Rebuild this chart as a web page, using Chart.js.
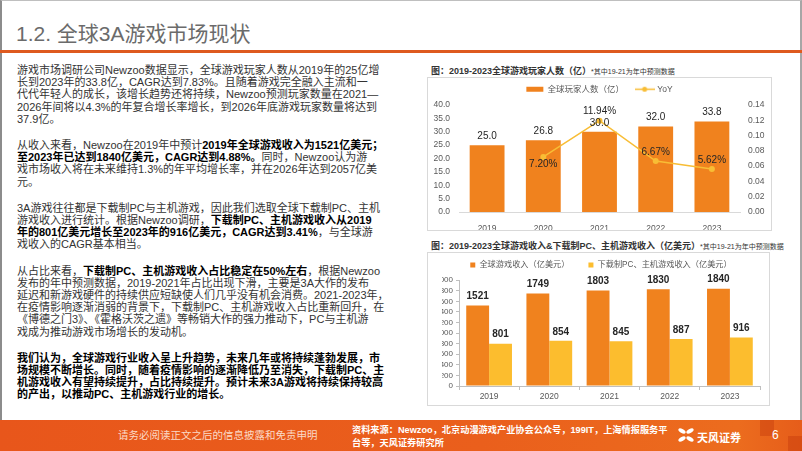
<!DOCTYPE html>
<html>
<head>
<meta charset="utf-8">
<script src="https://cdn.jsdelivr.net/npm/chart.js@4.4.1/dist/chart.umd.min.js"></script>
<style>
    body { margin: 0; width: 802px; height: 451px; overflow: hidden; background: #fff; position: relative;
           font-family: "Liberation Sans", "Noto Sans CJK SC", sans-serif; }
    .frame { position: absolute; left: 0; top: 0; width: 798px; height: 419px; border-left: 2px solid #8c8c8c;
             border-right: 2px solid #a6a6a6; border-top: 1px solid #bfbfbf; }
    .title { position: absolute; left: 16px; top: 17px; font-size: 21px; color: #6b6b6b; white-space: nowrap; }
    .rule { position: absolute; left: 0; top: 50px; width: 802px; height: 3px; background: #de5a1f; }
    .body { position: absolute; left: 17px; top: 64px; font-size: 11px; line-height: 12.2px; color: #333; }
    .body p { margin: 0 0 14px 0; white-space: nowrap; }
    .body b { color: #000; }
    .ctitle { position: absolute; left: 431px; font-size: 9px; color: #333; white-space: nowrap; font-weight: bold; }
    .ctitle small { font-size: 7px; font-weight: normal; }
    .box { position: absolute; border: 1px solid #d9d9d9; box-sizing: border-box; }
    .box canvas { display: block; }
    .footer { position: absolute; left: 0; top: 420px; width: 802px; height: 31px;
              background: linear-gradient(to right, #e8561b 0%, #ea5f1c 60%, #ec6c1e 92%, #e65d1a 100%); }
    .disc { position: absolute; left: 118px; top: 427px; font-size: 10.5px; color: #fbd9c6; white-space: nowrap; }
    .src { position: absolute; left: 352px; top: 424px; font-size: 9.2px; line-height: 13px; color: #fff; font-weight: bold; white-space: nowrap; }
    .logo { position: absolute; left: 697px; top: 429px; font-size: 11px; color: #fff; font-weight: bold; white-space: nowrap; }
    .page { position: absolute; left: 772px; top: 428px; font-size: 12px; color: #fff; }
    .blk { position: absolute; background: rgba(190, 50, 10, 0.35); }
</style>
</head>
<body>
<div class="frame"></div>
<div class="title">1.2. 全球3A游戏市场现状</div>
<div class="rule"></div>

<div class="body">
    <p>游戏市场调研公司Newzoo数据显示，全球游戏玩家人数从2019年的25亿增<br>长到2023年的33.8亿，CAGR达到7.83%。且随着游戏完全融入主流和一<br>代代年轻人的成长，该增长趋势还将持续，Newzoo预测玩家数量在2021—<br>2026年间将以4.3%的年复合增长率增长，到2026年底游戏玩家数量将达到<br>37.9亿。</p>
    <p>从收入来看，Newzoo在2019年中预计<b>2019年全球游戏收入为1521亿美元；</b><br><b>至2023年已达到1840亿美元，CAGR达到4.88%。</b>同时，Newzoo认为游<br>戏市场收入将在未来维持1.3%的年平均增长率，并在2026年达到2057亿美<br>元。</p>
    <p>3A游戏往往都是下载制PC与主机游戏，因此我们选取全球下载制PC、主机<br>游戏收入进行统计。根据Newzoo调研，<b>下载制PC、主机游戏收入从2019</b><br><b>年的801亿美元增长至2023年的916亿美元，CAGR达到3.41%</b>，与全球游<br>戏收入的CAGR基本相当。</p>
    <p>从占比来看，<b>下载制PC、主机游戏收入占比稳定在50%左右</b>，根据Newzoo<br>发布的年中预测数据，2019-2021年占比出现下滑，主要是3A大作的发布<br>延迟和新游戏硬件的持续供应短缺使人们几乎没有机会消费。2021-2023年，<br>在疫情影响逐渐消弱的背景下，下载制PC、主机游戏收入占比重新回升，在<br>《博德之门3》、《霍格沃茨之遗》等畅销大作的强力推动下，PC与主机游<br>戏成为推动游戏市场增长的发动机。</p>
    <p><b>我们认为，全球游戏行业收入呈上升趋势，未来几年或将持续蓬勃发展，市<br>场规模不断增长。同时，随着疫情影响的逐渐降低乃至消失，下载制PC、主<br>机游戏收入有望持续提升，占比持续提升。预计未来3A游戏将持续保持较高<br>的产出，以推动PC、主机游戏行业的增长。</b></p>
</div>

<div class="ctitle" style="top:64px">图：2019-2023全球游戏玩家人数（亿）<small>*其中19-21为年中预测数据</small></div>
<div class="box" style="left:427px; top:77px; width:345px; height:154px;">
    <canvas id="playersChart" width="343" height="152"></canvas>
</div>

<div class="ctitle" style="top:239px">图：2019-2023全球游戏收入&amp;下载制PC、主机游戏收入（亿美元）<small>*其中19-21为年中预测数据</small></div>
<div class="box" style="left:427px; top:252px; width:343px; height:154px;">
    <canvas id="revenueChart" width="341" height="152"></canvas>
</div>

<div class="footer"></div>
<div class="blk" style="left:760px; top:420px; width:14px; height:16px;"></div>
<div class="blk" style="left:788px; top:436px; width:14px; height:15px;"></div>
<div class="disc">请务必阅读正文之后的信息披露和免责申明</div>
<div class="src">资料来源：Newzoo，北京动漫游戏产业协会公众号，199IT，上海情报服务平<br>台等，天风证券研究所</div>
<svg style="position:absolute; left:677px; top:427px;" width="18" height="16" viewBox="0 0 18 16">
    <g fill="#fff">
        <ellipse cx="5" cy="4" rx="4" ry="2" transform="rotate(30 5 4)"/>
        <ellipse cx="13" cy="4" rx="4" ry="2" transform="rotate(-30 13 4)"/>
        <ellipse cx="5" cy="12" rx="4" ry="2" transform="rotate(-30 5 12)"/>
        <ellipse cx="13" cy="12" rx="4" ry="2" transform="rotate(30 13 12)"/>
    </g>
</svg>
<div class="logo">天风证券</div>
<div class="page">6</div>

<script>
    // 数据
    const years = ['2019', '2020', '2021', '2022', '2023'];
    const players = [25.0, 26.8, 30.0, 32.0, 33.8];          // 亿
    const playersYoY = [null, 0.0720, 0.1194, 0.0667, 0.0562];
    const playerTicks = [0, 5, 10, 15, 20, 25, 30, 35, 40];
    const yoyTicks = [0, 0.02, 0.04, 0.06, 0.08, 0.10, 0.12, 0.14];

    const globalRevenue = [1521, 1749, 1803, 1830, 1840];    // 亿美元
    const pcConsoleRevenue = [801, 854, 845, 887, 916];
    const revenueTicks = [0, 200, 400, 600, 800, 1000, 1200, 1400, 1600, 1800, 2000];

    const FONT = "'Liberation Sans', 'Noto Sans CJK SC', sans-serif";
    const ORANGE = '#f0821e';
    const YELLOW = '#fcbd2e';
    const LINE = '#f8bd35';
    const TICK_SIZE = 8.5;

    Chart.defaults.font.family = FONT;
    Chart.defaults.color = '#595959';
    Chart.defaults.animation = false;

    // 数值标签（柱顶 / 折线点）
    const valueLabels = {
        id: 'valueLabels',
        afterDatasetsDraw(chart) {
            const ctx = chart.ctx;
            chart.data.datasets.forEach((ds, di) => {
                if (!ds.labelFormat) return;
                const meta = chart.getDatasetMeta(di);
                meta.data.forEach((el, i) => {
                    const v = ds.data[i];
                    if (v == null) return;
                    const below = ds.labelBelow && ds.labelBelow[i];
                    ctx.save();
                    ctx.font = (ds.labelWeight || 'normal') + ' 10px ' + FONT;
                    ctx.fillStyle = '#262626';
                    ctx.textAlign = 'center';
                    ctx.textBaseline = 'middle';
                    ctx.fillText(ds.labelFormat(v), el.x, el.y + (below ? 7 : -9));
                    ctx.restore();
                });
            });
        }
    };

    // 图例下方多留一点空
    const legendSpacer = {
        id: 'legendSpacer',
        beforeInit(chart, args, opts) {
            const fit = chart.legend.fit;
            chart.legend.fit = function () {
                fit.bind(chart.legend)();
                this.height += opts.extra || 0;
            };
        }
    };

    function fixedTicks(list) {
        return scale => { scale.ticks = list.map(v => ({ value: v })); };
    }

    // 折线图例：短线 + 圆点
    const lineMarker = document.createElement('canvas');
    lineMarker.width = 20;
    lineMarker.height = 7;
    (function () {
        const c = lineMarker.getContext('2d');
        c.strokeStyle = LINE;
        c.lineWidth = 1.5;
        c.beginPath();
        c.moveTo(0, 3.5);
        c.lineTo(20, 3.5);
        c.stroke();
        c.fillStyle = LINE;
        c.beginPath();
        c.arc(10, 3.5, 2.5, 0, Math.PI * 2);
        c.fill();
    })();

    new Chart(document.getElementById('playersChart').getContext('2d'), {
        type: 'bar',
        data: {
            labels: years,
            datasets: [{
                label: '全球玩家人数（亿）',
                data: players,
                backgroundColor: ORANGE,
                borderWidth: 0,
                categoryPercentage: 1,
                barPercentage: 0.62,
                yAxisID: 'y',
                order: 1,
                pointStyle: 'rect',
                labelFormat: v => v.toFixed(1)
            }, {
                type: 'line',
                label: 'YoY',
                data: playersYoY,
                borderColor: LINE,
                backgroundColor: LINE,
                borderWidth: 1.5,
                pointRadius: 3,
                pointBackgroundColor: LINE,
                pointBorderWidth: 0,
                tension: 0,
                yAxisID: 'y1',
                order: 0,
                pointStyle: 'circle',
                labelBelow: [false, true, false, false, false],
                labelFormat: v => (v * 100).toFixed(2) + '%'
            }]
        },
        options: {
            responsive: false,
            layout: { padding: { top: -5, left: 0, right: 0, bottom: 0 } },
            plugins: {
                legend: {
                    labels: {
                        usePointStyle: true,
                        pointStyleWidth: 17,
                        boxHeight: 5,
                        padding: 12,
                        font: { size: 8.5 },
                        color: '#595959',
                        sort: (a, b) => a.datasetIndex - b.datasetIndex,
                        generateLabels(chart) {
                            const items = Chart.defaults.plugins.legend.labels.generateLabels(chart);
                            items.forEach(it => {
                                if (it.datasetIndex === 1) it.pointStyle = lineMarker;
                            });
                            return items;
                        }
                    }
                },
                legendSpacer: { extra: 1.5 },
                tooltip: { enabled: false }
            },
            scales: {
                x: {
                    grid: { display: false },
                    border: { display: true, color: '#d9d9d9' },
                    ticks: { padding: 4, font: { size: TICK_SIZE } },
                    afterFit: s => { s.height = 18; }
                },
                y: {
                    position: 'left',
                    min: 0, max: 40,
                    grid: { display: false, drawTicks: false },
                    border: { display: false },
                    afterBuildTicks: fixedTicks(playerTicks),
                    ticks: { padding: 9, autoSkip: false, font: { size: TICK_SIZE }, callback: v => v.toFixed(1) },
                    afterFit: s => { s.width = 31; }
                },
                y1: {
                    position: 'right',
                    min: 0, max: 0.14,
                    grid: { display: false, drawTicks: false },
                    border: { display: false },
                    afterBuildTicks: fixedTicks(yoyTicks),
                    ticks: { padding: 8, autoSkip: false, font: { size: TICK_SIZE }, callback: v => v.toFixed(2) },
                    afterFit: s => { s.width = 31; }
                }
            }
        },
        plugins: [valueLabels, legendSpacer]
    });

    new Chart(document.getElementById('revenueChart').getContext('2d'), {
        type: 'bar',
        data: {
            labels: years,
            datasets: [{
                label: '全球游戏收入（亿美元）',
                data: globalRevenue,
                backgroundColor: ORANGE,
                borderWidth: 0,
                categoryPercentage: 0.76,
                barPercentage: 1,
                labelWeight: 'bold',
                labelFormat: v => String(v)
            }, {
                label: '下载制PC、主机游戏收入（亿美元）',
                data: pcConsoleRevenue,
                backgroundColor: YELLOW,
                borderWidth: 0,
                categoryPercentage: 0.76,
                barPercentage: 1,
                labelWeight: 'bold',
                labelFormat: v => String(v)
            }]
        },
        options: {
            responsive: false,
            layout: { padding: { top: -11, left: 14, right: 9, bottom: 0 } },
            plugins: {
                legend: {
                    labels: {
                        boxWidth: 5,
                        boxHeight: 5,
                        padding: 19,
                        font: { size: 8.2 },
                        color: '#595959'
                    }
                },
                legendSpacer: { extra: 1 },
                tooltip: { enabled: false }
            },
            scales: {
                x: {
                    grid: { display: true, drawOnChartArea: false, drawTicks: true, tickLength: 4, color: '#bfbfbf' },
                    border: { display: true, color: '#bfbfbf' },
                    ticks: { padding: 2, font: { size: TICK_SIZE } },
                    afterFit: s => { s.height = 19; }
                },
                y: {
                    min: 0, max: 2000,
                    grid: { display: true, drawOnChartArea: false, drawTicks: true, tickLength: 3, color: '#bfbfbf' },
                    border: { display: true, color: '#bfbfbf' },
                    afterBuildTicks: fixedTicks(revenueTicks),
                    ticks: { padding: 3, autoSkip: false, font: { size: 8 }, callback: v => String(v) },
                    afterFit: s => { s.width = 17; }
                }
            }
        },
        plugins: [valueLabels, legendSpacer]
    });
</script>
</body>
</html>
